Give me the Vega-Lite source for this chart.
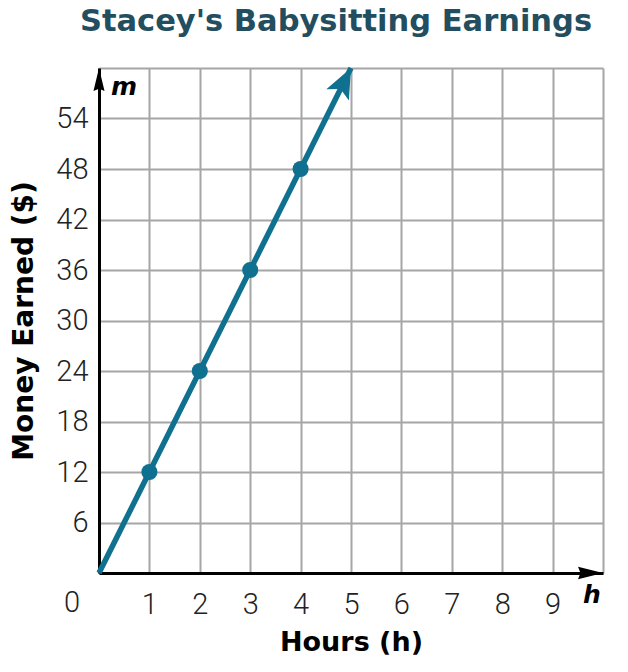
{
  "$schema": "https://vega.github.io/schema/vega-lite/v6.json",
  "width": 504,
  "height": 505,
  "autosize": "none",
  "padding": {"left": 99, "top": 68, "right": 25, "bottom": 99},
  "background": "white",
  "title": {
    "text": "Stacey's Babysitting Earnings",
    "font": "DejaVu Sans",
    "fontSize": 30.5,
    "fontWeight": "bold",
    "color": "#234e5f",
    "anchor": "middle",
    "dx": -15,
    "offset": -4,
    "baseline": "alphabetic"
  },
  "config": {"view": {"stroke": null}},
  "datasets": {
    "line": [{"h": 0, "m": 0}, {"h": 5, "m": 60}],
    "points": [{"h": 1, "m": 12}, {"h": 2, "m": 24}, {"h": 3, "m": 36}, {"h": 4, "m": 48}],
    "tip": [{"h": 5, "m": 60}],
    "ytip": [{"h": 0, "m": 60}],
    "xtip": [{"h": 10, "m": 0}],
    "zero": [{"h": 0, "m": 0, "t": "0"}],
    "mlab": [{"h": 0, "m": 60, "t": "m"}],
    "hlab": [{"h": 10, "m": 0, "t": "h"}]
  },
  "encoding": {
    "x": {
      "field": "h",
      "type": "quantitative",
      "scale": {"domain": [0, 10], "nice": false, "zero": false},
      "axis": {
        "values": [0, 1, 2, 3, 4, 5, 6, 7, 8, 9, 10],
        "labelExpr": "datum.value == 0 || datum.value == 10 ? '' : datum.label",
        "title": "Hours (h)",
        "titleFont": "DejaVu Sans",
        "titleFontSize": 27,
        "titleFontWeight": "bold",
        "titleColor": "black",
        "titleBaseline": "alphabetic",
        "titleY": 77,
        "labelFont": "Roboto",
        "labelFontWeight": 300,
        "labelFontSize": 29,
        "labelColor": "#222222",
        "labelPadding": 17,
        "labelBaseline": "top",
        "ticks": false,
        "tickSize": 0,
        "domainColor": "black",
        "domainWidth": 3,
        "grid": true,
        "gridColor": "#a6a6a6",
        "gridWidth": 2
      }
    },
    "y": {
      "field": "m",
      "type": "quantitative",
      "scale": {"domain": [0, 60], "nice": false, "zero": false},
      "axis": {
        "values": [0, 6, 12, 18, 24, 30, 36, 42, 48, 54, 60],
        "labelExpr": "datum.value == 0 || datum.value == 60 ? '' : datum.label",
        "title": "Money Earned ($)",
        "titleFont": "DejaVu Sans",
        "titleFontSize": 28,
        "titleFontWeight": "bold",
        "titleColor": "black",
        "titleBaseline": "alphabetic",
        "titleX": -67,
        "labelFont": "Roboto",
        "labelFontWeight": 300,
        "labelFontSize": 29,
        "labelColor": "#222222",
        "labelPadding": 11,
        "labelBaseline": "middle",
        "ticks": false,
        "tickSize": 0,
        "domainColor": "black",
        "domainWidth": 3,
        "grid": true,
        "gridColor": "#a6a6a6",
        "gridWidth": 2
      }
    }
  },
  "layer": [
    {
      "data": {"name": "line"},
      "mark": {"type": "line", "color": "#10708f", "strokeWidth": 5.5}
    },
    {
      "data": {"name": "points"},
      "mark": {"type": "circle", "color": "#10708f", "size": 260, "opacity": 1}
    },
    {
      "data": {"name": "tip"},
      "mark": {
        "type": "point",
        "shape": "M0,0 L0.42,1 L0,0.78 L-0.42,1 Z",
        "size": 3600,
        "angle": 26.5,
        "filled": true,
        "color": "#10708f",
        "opacity": 1
      }
    },
    {
      "data": {"name": "ytip"},
      "mark": {
        "type": "point",
        "shape": "M0,0 L0.24,1 L0,0.9 L-0.24,1 Z",
        "size": 2116,
        "angle": 0,
        "filled": true,
        "color": "black",
        "opacity": 1
      }
    },
    {
      "data": {"name": "xtip"},
      "mark": {
        "type": "point",
        "shape": "M0,0 L0.25,1 L0,0.9 L-0.25,1 Z",
        "size": 2500,
        "angle": 90,
        "filled": true,
        "color": "black",
        "opacity": 1
      }
    },
    {
      "data": {"name": "zero"},
      "mark": {
        "type": "text",
        "font": "Roboto",
        "fontWeight": 300,
        "fontSize": 29,
        "color": "#222222",
        "align": "center",
        "baseline": "middle",
        "dx": -27,
        "dy": 30
      },
      "encoding": {"text": {"field": "t"}}
    },
    {
      "data": {"name": "mlab"},
      "mark": {
        "type": "text",
        "font": "DejaVu Sans",
        "fontWeight": "bold",
        "fontStyle": "italic",
        "fontSize": 25,
        "color": "black",
        "align": "center",
        "baseline": "alphabetic",
        "dx": 25,
        "dy": 27
      },
      "encoding": {"text": {"field": "t"}}
    },
    {
      "data": {"name": "hlab"},
      "mark": {
        "type": "text",
        "font": "DejaVu Sans",
        "fontWeight": "bold",
        "fontStyle": "italic",
        "fontSize": 25,
        "color": "black",
        "align": "center",
        "baseline": "alphabetic",
        "dx": -11,
        "dy": 30
      },
      "encoding": {"text": {"field": "t"}}
    }
  ]
}
